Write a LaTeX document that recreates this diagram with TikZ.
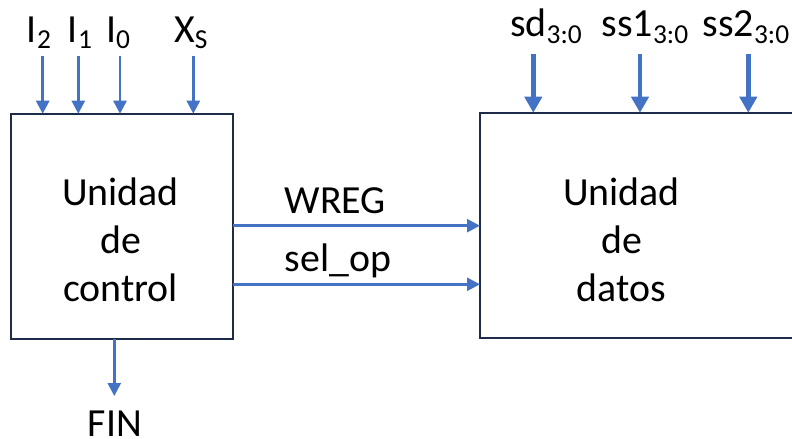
\documentclass[tikz,border=0pt]{standalone}
\usepackage{fontspec}
\setmainfont{Carlito}
\usetikzlibrary{arrows.meta}

\definecolor{wire}{HTML}{4472C4}
\definecolor{frame}{HTML}{1E2C4A}

% subscript of a pin name
\newcommand\pinidx[1]{\raisebox{-6.5bp}{\fontsize{27.5}{27.5}\selectfont #1}}

\tikzset{
  unitbox/.style={draw=frame, line width=2bp, inner sep=0pt, outer sep=0pt},
  boxtext/.style={font=\fontsize{40}{48.5}\selectfont, align=center, inner sep=0pt, anchor=base},
  pinlabel/.style={font=\fontsize{40}{48}\selectfont, inner sep=0pt, anchor=base west},
  sig/.style={wire, line width=2.5bp, -{Triangle[length=13bp,width=13bp]}},
  bus/.style={wire, line width=4.5bp, -{Triangle[length=16bp,width=17bp]}},
}

\begin{document}
\begin{tikzpicture}[x=1bp,y=-1bp]
\clip (0,0) rectangle (792,439);
\fill[white] (0,0) rectangle (792,439);

% the two units (text anchored at the baseline of the last line)
\node[unitbox, minimum width=222bp, minimum height=225.5bp] (uc) at (122,226.5) {};
\node[unitbox, minimum width=360bp, minimum height=225.5bp] (ud) at (660,225.5) {};
\node[boxtext] (uctext) at (120.5,301.7) {Unidad\\de\\control};
\node[boxtext] (udtext) at (621.5,301.7) {Unidad\\de\\datos};

% control unit inputs
\node[pinlabel] (i2) at (26.8,42.3) {I\pinidx{2}};
\node[pinlabel] (i1) at (67.8,42.3) {I\pinidx{1}};
\node[pinlabel] (i0) at (106,42.3) {I\pinidx{0}};
\node[pinlabel] (xs) at (174,42.3) {X\pinidx{S}};
\coordinate (i2in) at (42.7,56);
\coordinate (i1in) at (78.3,56);
\coordinate (i0in) at (120,56);
\coordinate (xsin) at (193.3,56);
\foreach \p in {i2in,i1in,i0in,xsin}
  \draw[sig] (\p) -- (\p |- uc.north);

% data unit inputs
\node[pinlabel] (sd) at (510,36.7) {sd\pinidx{3:0}};
\node[pinlabel] (ss1) at (601.5,36.7) {ss1\pinidx{3:0}};
\node[pinlabel] (ss2) at (702.5,36.7) {ss2\pinidx{3:0}};
\coordinate (sdin) at (533.3,54);
\coordinate (ss1in) at (640,54);
\coordinate (ss2in) at (748.3,54);
\foreach \p in {sdin,ss1in,ss2in}
  \draw[bus] (\p) -- (\p |- ud.north);

% control signals between the units
\coordinate (wregrow) at (0,225.7);
\coordinate (selrow) at (0,284.3);
\draw[sig] (uc.east |- wregrow) -- (ud.west |- wregrow);
\draw[sig] (uc.east |- selrow) -- (ud.west |- selrow);
\node[pinlabel] (wreg) at (284.5,214) {WREG};
\node[pinlabel] (selop) at (284.5,272) {sel\_op};

% end flag
\node[pinlabel, anchor=base] (fin) at (115,436.8) {FIN};
\coordinate (finout) at (114.3,396);
\draw[sig] (finout |- uc.south) -- (finout);
\end{tikzpicture}
\end{document}
